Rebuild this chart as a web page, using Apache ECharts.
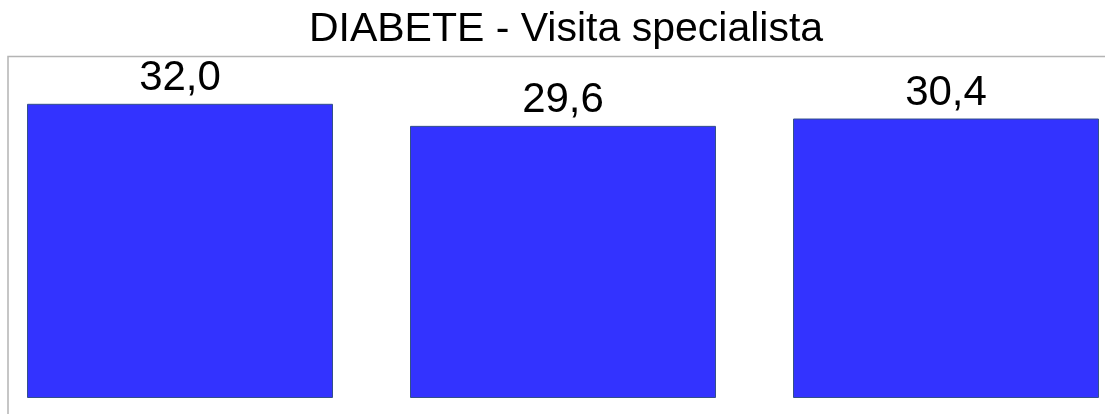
<!DOCTYPE html>
<html>
<head>
<meta charset="utf-8">
<style>
  html, body { margin: 0; padding: 0; background: #fff; }
  #chart { width: 1105px; height: 414px; }
</style>
<script src="https://cdn.jsdelivr.net/npm/echarts@6/dist/echarts.min.js"></script>
</head>
<body>
<div id="chart"></div>
<script>
// Diabete - visita specialista, three groups (axis labels are not shown)
const categories = ['1', '2', '3'];
const values = [32.0, 29.6, 30.4];
const titleText = 'DIABETE - Visita specialista';

const myChart = echarts.init(document.getElementById('chart'));

const option = {
  backgroundColor: '#fff',
  animation: false,
  title: {
    text: titleText,
    left: 561,
    textAlign: 'center',
    top: 4,
    textStyle: { fontFamily: 'Liberation Sans', fontSize: 41, fontWeight: 'normal', color: '#000' }
  },
  // frame of the plot area (top and left edges are visible)
  graphic: [{
    type: 'polyline',
    shape: { points: [[8, 414], [8, 56.5], [1105, 56.5]] },
    style: { stroke: '#b4b4b4', lineWidth: 1.5, fill: null }
  }],
  // plot area runs past the right edge of the picture
  grid: { left: -11.5, right: -32.5, top: 56, bottom: 16, outerBoundsMode: 'none', containLabel: false },
  xAxis: {
    type: 'category',
    data: categories,
    show: false
  },
  yAxis: {
    type: 'value',
    min: 0,
    max: 37.2,
    show: false
  },
  series: [{
    type: 'bar',
    data: values,
    barWidth: 306,
    itemStyle: { color: '#3333ff', borderColor: '#33508a', borderWidth: 1 },
    label: {
      show: true,
      position: 'top',
      distance: 4,
      fontFamily: 'Liberation Sans',
      fontSize: 42,
      color: '#000',
      formatter: p => p.value.toFixed(1).replace('.', ',')
    }
  }]
};
myChart.setOption(option);
</script>
</body>
</html>
